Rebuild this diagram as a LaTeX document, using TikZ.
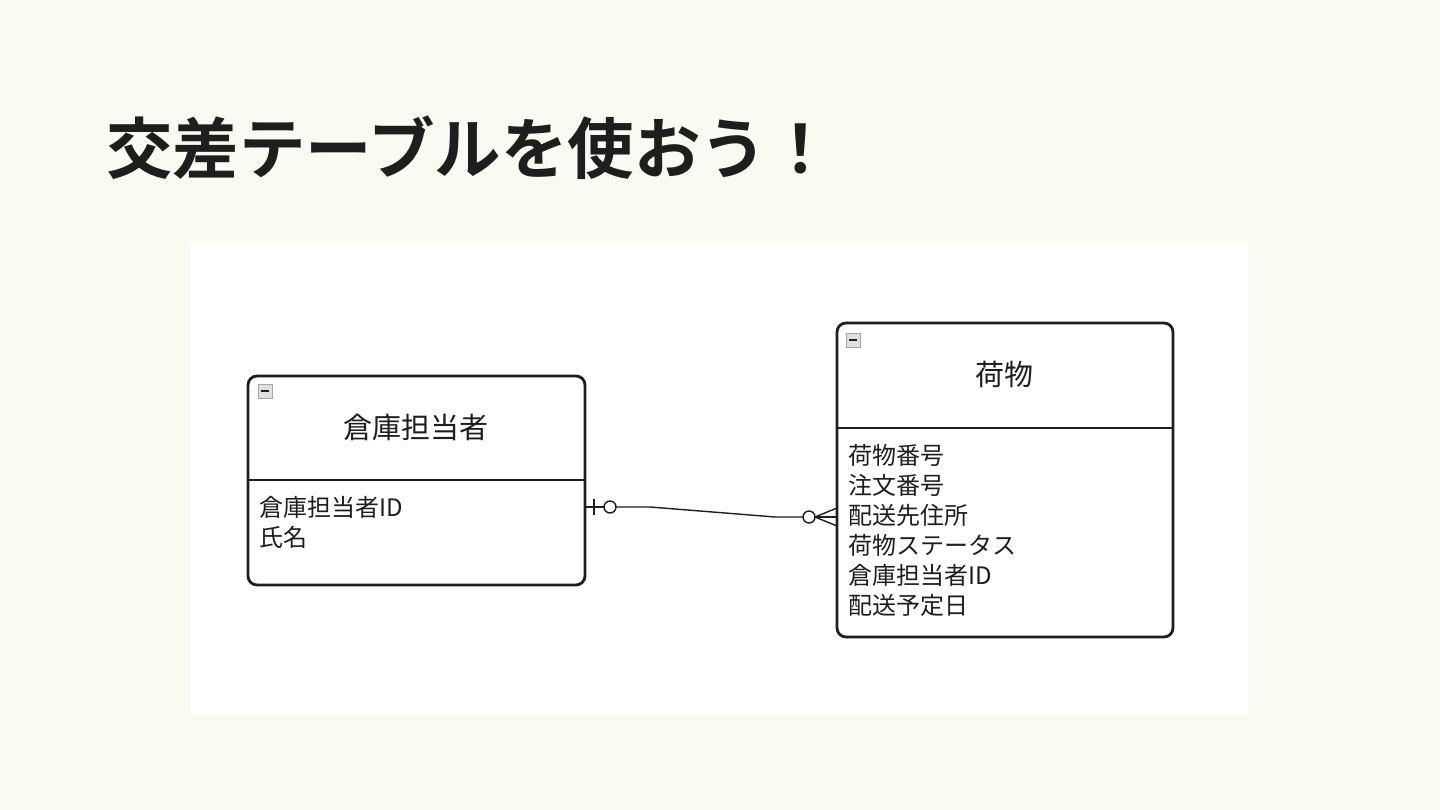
\documentclass[tikz,border=0pt]{standalone}
\usepackage{fontspec}
\newfontfamily\jp{Noto Sans CJK JP}
\newfontfamily\jpb{Noto Sans CJK JP Bold}
\definecolor{bgc}{HTML}{F9FBF2}
\definecolor{txt}{HTML}{1E1E1E}
\begin{document}
\begin{tikzpicture}[x=1pt,y=-1pt,
  entity/.style={draw=txt,line width=2.8pt,rounded corners=9pt,fill=white},
  etitle/.style={font=\jp\fontsize{29}{32}\selectfont,text=txt,inner sep=0pt},
  attr/.style={font=\jp\fontsize{24}{30}\selectfont,text=txt,inner sep=0pt,anchor=north west,align=left},
  icon/.style={draw=gray!70,fill=gray!25,line width=0.6pt},
  conn/.style={draw=txt,line width=1.4pt}]
\useasboundingbox (0,0) rectangle (1440,810);
\fill[bgc] (0,0) rectangle (1440,810);
\fill[white] (190,243) rectangle (1248,714);
\node[anchor=base west,inner sep=0pt,font=\jpb\fontsize{66.5}{70}\selectfont,text=txt] (title) at (106,174) {交差テーブルを使おう！};
% left entity
\draw[entity] (248,376) rectangle (585,585);
\draw[txt,line width=2.8pt] (248,480) -- (585,480);
\coordinate (L) at (585,507);
\node[etitle] (ltitle) at (416,427) {倉庫担当者};
\node[attr] (lattr) at (259,496) {倉庫担当者ID\\氏名};
\draw[icon] (258,384) rectangle (272,398);
\draw[txt,line width=1.3pt] (261,391) -- (269,391);
% right entity
\draw[entity] (837,323) rectangle (1173,637);
\draw[txt,line width=2.8pt] (837,428) -- (1173,428);
\coordinate (R) at (837,517);
\node[etitle] (rtitle) at (1004,374) {荷物};
\node[attr] (rattr) at (848,444) {荷物番号\\注文番号\\配送先住所\\荷物ステータス\\倉庫担当者ID\\配送予定日};
\draw[icon] (846,333) rectangle (860,347);
\draw[txt,line width=1.3pt] (849,340) -- (857,340);
% connector
\coordinate (c1) at (616,507);
\coordinate (c2) at (650,507);
\coordinate (c3) at (775,517);
\coordinate (c4) at (803,517);
\draw[conn] (L) -- (c1);
\draw[conn] (c1) -- (c2) -- (c3) -- (c4);
\draw[conn] (594,499) -- (594,515);
\draw[conn,fill=white] (610,507) circle (6);
\draw[conn,fill=white] (809,517) circle (6);
\draw[conn] (815,517) -- (R);
\draw[conn] (815,517) -- (837,508);
\draw[conn] (815,517) -- (837,526);
\end{tikzpicture}
\end{document}
